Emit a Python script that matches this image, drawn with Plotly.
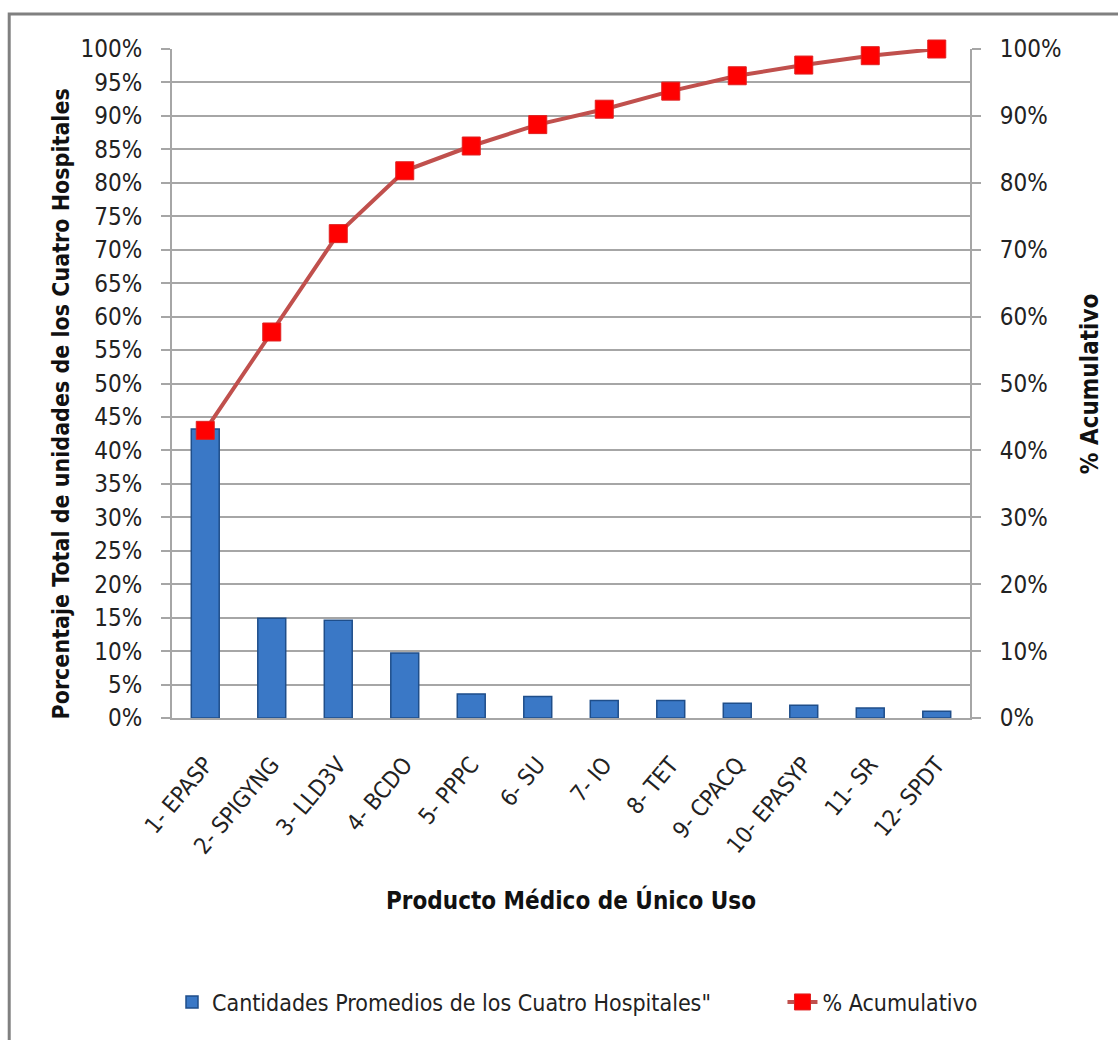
import plotly.graph_objects as go

categories = ["1- EPASP", "2- SPIGYNG", "3- LLD3V", "4- BCDO", "5- PPPC", "6- SU",
              "7- IO", "8- TET", "9- CPACQ", "10- EPASYP", "11- SR", "12- SPDT"]
bar_values = [43.2, 14.9, 14.6, 9.7, 3.6, 3.2, 2.6, 2.6, 2.2, 1.9, 1.5, 1.0]
cumulative = [43.0, 57.7, 72.4, 81.8, 85.5, 88.7, 91.0, 93.7, 96.0, 97.6, 99.0, 100.0]
left_ticks = list(range(0, 101, 5))
right_ticks = list(range(0, 101, 10))

FONT = "Liberation Sans Narrow, DejaVu Sans Condensed, Arial Narrow, sans-serif"
GRID = "#A6A6A6"

fig = go.Figure()
fig.add_trace(go.Bar(
    x=categories, y=bar_values, name='Cantidades Promedios de los Cuatro Hospitales"',
    marker=dict(color="#3A78C6", line=dict(color="#1F4E8A", width=1.5)),
    width=0.42, yaxis="y", legend="legend",
))
fig.add_trace(go.Scatter(
    x=categories, y=cumulative, name="% Acumulativo", mode="lines+markers",
    line=dict(color="#C0504D", width=4),
    marker=dict(symbol="square", size=18, color="#FF0000", line=dict(color="#E02020", width=1)),
    yaxis="y2", legend="legend2", cliponaxis=False,
))

fig.update_layout(
    width=1118, height=1040,
    margin=dict(l=172, r=148, t=49, b=322),
    paper_bgcolor="white", plot_bgcolor="white",
    font=dict(family=FONT, size=25, color="#222222"),
    showlegend=True,
    xaxis=dict(
        range=[-0.5, 11.5], tickangle=-50, showgrid=False, showline=True, linecolor=GRID,
        linewidth=2, ticks="", ticklabelstandoff=22, tickfont=dict(size=23),
    ),
    yaxis=dict(
        range=[0, 100], tickvals=left_ticks, ticktext=[f"{v}%" for v in left_ticks],
        showgrid=True, gridcolor=GRID, gridwidth=2, showline=True, linecolor=GRID, linewidth=2,
        ticks="outside", ticklen=9, tickcolor=GRID, tickwidth=2, ticklabelstandoff=14,
        zeroline=False, tickfont=dict(size=24),
    ),
    yaxis2=dict(
        range=[0, 100], overlaying="y", side="right", tickvals=right_ticks,
        ticktext=[f"{v}%" for v in right_ticks], showgrid=False, showline=True,
        linecolor=GRID, linewidth=2, ticks="outside", ticklen=9, tickcolor=GRID, tickwidth=2,
        ticklabelstandoff=14, zeroline=False, tickfont=dict(size=24),
    ),
    legend=dict(orientation="h", x=0.0, y=-0.4245, xanchor="left", yanchor="middle",
                font=dict(size=23), bgcolor="rgba(0,0,0,0)"),
    legend2=dict(orientation="h", x=0.765, y=-0.4245, xanchor="left", yanchor="middle",
                 font=dict(size=23), bgcolor="rgba(0,0,0,0)"),
    annotations=[
        dict(text="<b>Producto Médico de Único Uso</b>", xref="paper", yref="paper",
             x=0.5, y=-0.2975, showarrow=False, font=dict(size=24, color="#111111")),
        dict(text="<b>Porcentaje Total de unidades de los Cuatro Hospitales</b>", xref="paper",
             yref="paper", x=-0.158, y=0.47, textangle=-90, showarrow=False,
             font=dict(size=23, color="#111111")),
        dict(text="<b>% Acumulativo</b>", xref="paper", yref="paper", x=1.17, y=0.5,
             textangle=-90, showarrow=False, font=dict(size=24, color="#111111")),
    ],
    shapes=[
        dict(type="rect", xref="paper", yref="paper", x0=-0.204, x1=1.3, y0=-0.7, y1=1.0523,
             line=dict(color="#808080", width=3), fillcolor="rgba(0,0,0,0)", layer="below"),
    ],
)

fig.write_html("out.html")
